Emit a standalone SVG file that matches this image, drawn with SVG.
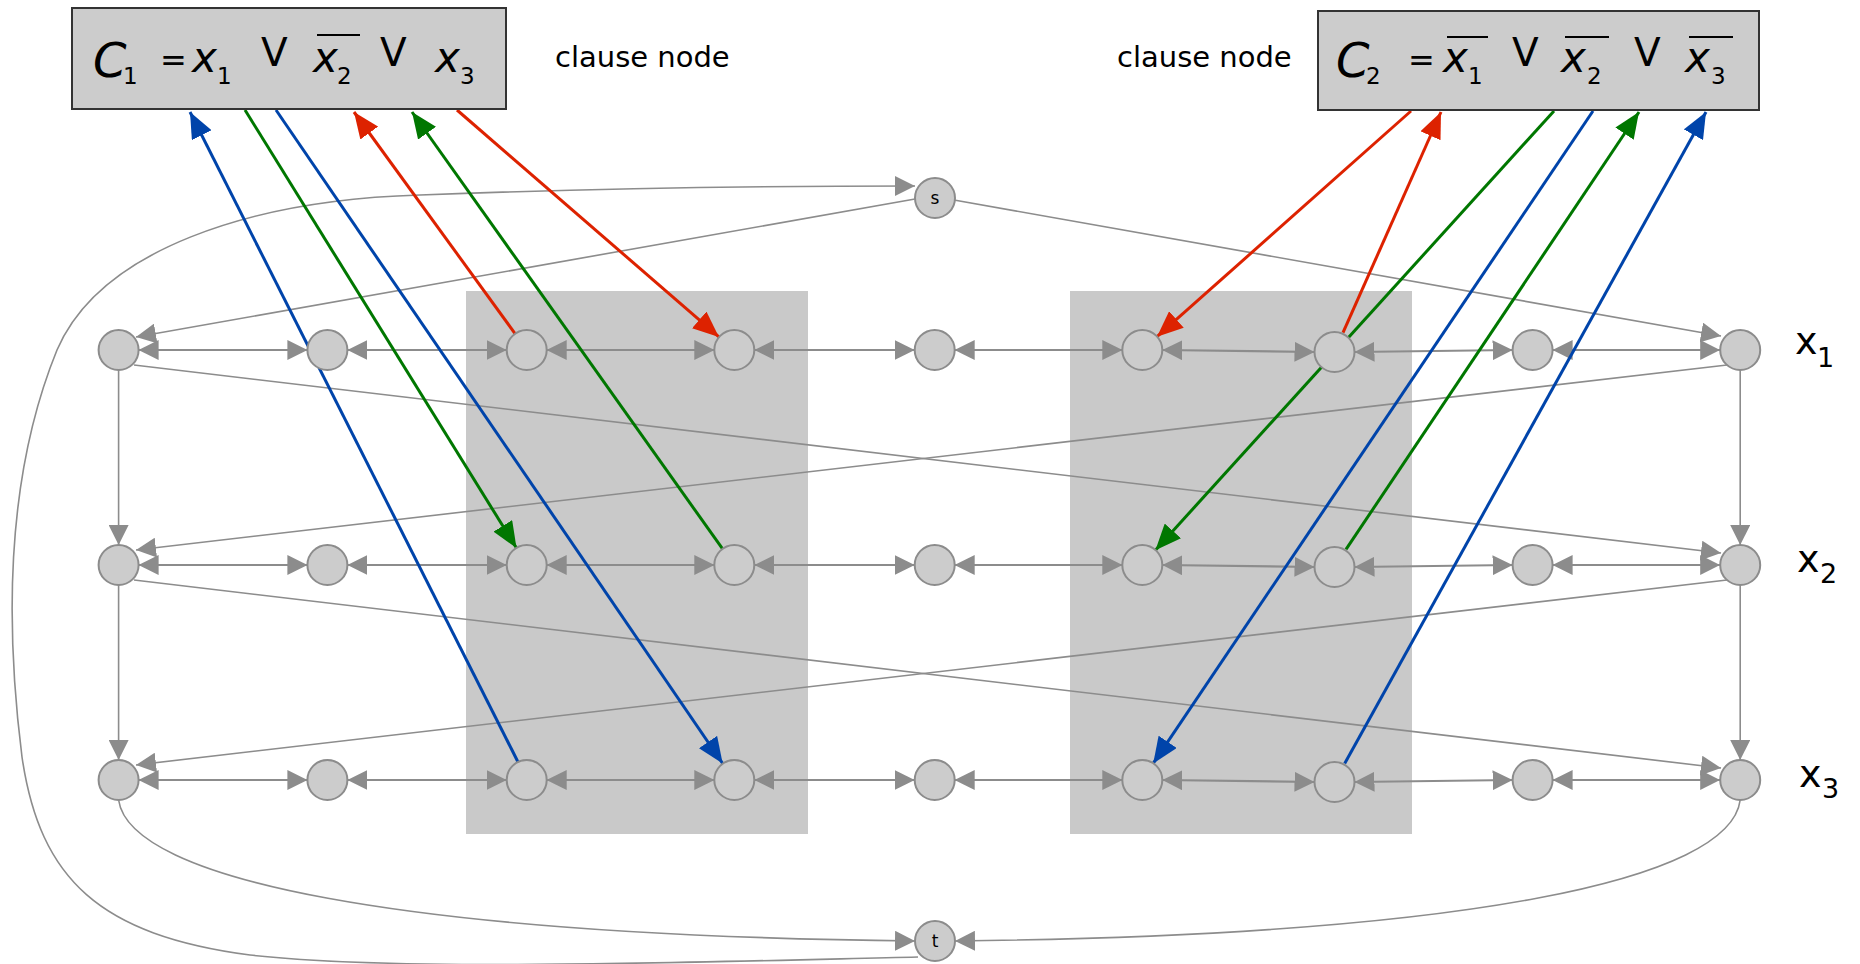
<svg xmlns="http://www.w3.org/2000/svg" width="1860" height="964" viewBox="0 0 1860 964">
<style>
.bg{fill:#ffffff}
.shade{fill:#c9c9c9}
.box{fill:#cccccc;stroke:#333333;stroke-width:2}
.nd{fill:#cccccc;stroke:#8c8c8c;stroke-width:2}
.e{stroke:#8c8c8c;stroke-width:2.2;fill:none}
.d{stroke:#8c8c8c;stroke-width:1.6;fill:none}
.dbl{marker-start:url(#ga);marker-end:url(#ga)}
.one{marker-end:url(#ga)}
.red{stroke:#dd2200;stroke-width:3;fill:none;marker-end:url(#ra)}
.grn{stroke:#007700;stroke-width:3;fill:none;marker-end:url(#gr)}
.blu{stroke:#0044aa;stroke-width:3;fill:none;marker-end:url(#ba)}
.lbl{font-family:"DejaVu Sans",sans-serif;font-size:29px;fill:#000}
.vl{font-family:"DejaVu Sans",sans-serif;font-size:38px;fill:#000}
.vs{font-family:"DejaVu Sans",sans-serif;font-size:27px;fill:#000}
.fi{font-family:"DejaVu Sans",sans-serif;font-style:italic;fill:#000}
.fr{font-family:"DejaVu Sans",sans-serif;fill:#000}
.sub{font-family:"DejaVu Sans",sans-serif;font-size:23px;fill:#000}
.ol{stroke:#000;stroke-width:2}
.st{font-family:"DejaVu Sans",sans-serif;font-size:17px;fill:#000;text-anchor:middle}
</style>
<defs>
<marker id="ga" viewBox="0 0 20 20" markerWidth="20" markerHeight="20" markerUnits="userSpaceOnUse" refX="20" refY="10" orient="auto-start-reverse"><path d="M0,0 L20,10 L0,20 z" fill="#8c8c8c"/></marker>
<marker id="ra" viewBox="0 0 26 22" markerWidth="26" markerHeight="22" markerUnits="userSpaceOnUse" refX="26" refY="11" orient="auto"><path d="M0,0 L26,11 L0,22 z" fill="#dd2200"/></marker>
<marker id="gr" viewBox="0 0 26 22" markerWidth="26" markerHeight="22" markerUnits="userSpaceOnUse" refX="26" refY="11" orient="auto"><path d="M0,0 L26,11 L0,22 z" fill="#007700"/></marker>
<marker id="ba" viewBox="0 0 26 22" markerWidth="26" markerHeight="22" markerUnits="userSpaceOnUse" refX="26" refY="11" orient="auto"><path d="M0,0 L26,11 L0,22 z" fill="#0044aa"/></marker>
</defs>
<rect class="bg" x="0" y="0" width="1860" height="964"/>
<g id="shading">
<rect class="shade" x="466" y="291" width="342" height="543"/>
<rect class="shade" x="1070" y="291" width="342" height="543"/>
</g>
<g id="connectors">
<!-- row 1 -->
<line class="e dbl" x1="138.6" y1="350" x2="307.4" y2="350"/>
<line class="e dbl" x1="347.4" y1="350" x2="506.7" y2="350"/>
<line class="e dbl" x1="546.7" y1="350" x2="714.3" y2="350"/>
<line class="e dbl" x1="754.3" y1="350" x2="914.7" y2="350"/>
<line class="e dbl" x1="954.7" y1="350" x2="1122.3" y2="350"/>
<line class="e dbl" x1="1162.3" y1="350" x2="1314.5" y2="352"/>
<line class="e dbl" x1="1354.5" y1="352" x2="1512.6" y2="350"/>
<line class="e dbl" x1="1552.6" y1="350" x2="1720.2" y2="350"/>
<!-- row 2 -->
<line class="e dbl" x1="138.6" y1="565" x2="307.4" y2="565"/>
<line class="e dbl" x1="347.4" y1="565" x2="506.7" y2="565"/>
<line class="e dbl" x1="546.7" y1="565" x2="714.3" y2="565"/>
<line class="e dbl" x1="754.3" y1="565" x2="914.7" y2="565"/>
<line class="e dbl" x1="954.7" y1="565" x2="1122.3" y2="565"/>
<line class="e dbl" x1="1162.3" y1="565" x2="1314.5" y2="567"/>
<line class="e dbl" x1="1354.5" y1="567" x2="1512.6" y2="565"/>
<line class="e dbl" x1="1552.6" y1="565" x2="1720.2" y2="565"/>
<!-- row 3 -->
<line class="e dbl" x1="138.6" y1="780" x2="307.4" y2="780"/>
<line class="e dbl" x1="347.4" y1="780" x2="506.7" y2="780"/>
<line class="e dbl" x1="546.7" y1="780" x2="714.3" y2="780"/>
<line class="e dbl" x1="754.3" y1="780" x2="914.7" y2="780"/>
<line class="e dbl" x1="954.7" y1="780" x2="1122.3" y2="780"/>
<line class="e dbl" x1="1162.3" y1="780" x2="1314.5" y2="782"/>
<line class="e dbl" x1="1354.5" y1="782" x2="1512.6" y2="780"/>
<line class="e dbl" x1="1552.6" y1="780" x2="1720.2" y2="780"/>
<!-- verticals -->
<line class="d one" x1="118.6" y1="370" x2="118.6" y2="545"/>
<line class="d one" x1="118.6" y1="585" x2="118.6" y2="760"/>
<line class="d one" x1="1740.2" y1="370" x2="1740.2" y2="545"/>
<line class="d one" x1="1740.2" y1="585" x2="1740.2" y2="760"/>
<!-- diagonals -->
<line class="d one" x1="915" y1="199" x2="136" y2="337"/>
<line class="d one" x1="954" y1="200" x2="1721" y2="336"/>
<line class="d one" x1="134" y1="365" x2="1721" y2="553"/>
<line class="d one" x1="1727" y1="365" x2="136" y2="550"/>
<line class="d one" x1="134" y1="580" x2="1721" y2="768"/>
<line class="d one" x1="1727" y1="580" x2="136" y2="765"/>
<!-- curves to t and back to s -->
<path class="d one" d="M118.6,800 C130,880 400,935 915,941"/>
<path class="d one" d="M1740.2,800 C1730,880 1470,935 955,941"/>
<path class="d one" d="M918,957 C700,962 400,972 250,955 C100,935 40,880 22,757 C6,630 4,480 57,350 C100,250 250,200 420,195 C600,188 800,186 915,186"/>
<!-- clause C1 -->
<line class="blu" x1="518" y1="762" x2="190" y2="112"/>
<line class="grn" x1="245" y1="110" x2="516.5" y2="548"/>
<line class="blu" x1="276" y1="110" x2="722.7" y2="763.5"/>
<line class="red" x1="515.2" y1="333.8" x2="354" y2="112"/>
<line class="grn" x1="722.4" y1="548.7" x2="412" y2="112"/>
<line class="red" x1="457" y1="110" x2="718.9" y2="336.9"/>
<!-- clause C2 -->
<line class="red" x1="1411" y1="111" x2="1157" y2="336.7"/>
<line class="red" x1="1343" y1="332.7" x2="1441" y2="112"/>
<line class="grn" x1="1554" y1="111" x2="1155.4" y2="550.2"/>
<line class="grn" x1="1346" y1="549.4" x2="1639" y2="112"/>
<line class="blu" x1="1593" y1="111" x2="1153.2" y2="763.4"/>
<line class="blu" x1="1344.7" y1="763.5" x2="1706" y2="112"/>
</g>
<g id="clause1">
<rect class="box" x="72" y="8" width="434" height="101"/>
<text class="fi" x="93" y="77" font-size="48">C</text>
<text class="sub" x="123" y="84">1</text>
<text class="fr" x="160" y="71" font-size="32">=</text>
<text class="fi" x="192" y="72" font-size="42">x</text>
<text class="sub" x="217" y="84">1</text>
<text class="fr" x="261" y="66" font-size="39">V</text>
<line class="ol" x1="317" y1="35" x2="360" y2="35"/>
<text class="fi" x="313" y="72" font-size="42">x</text>
<text class="sub" x="337" y="84">2</text>
<text class="fr" x="380" y="66" font-size="39">V</text>
<text class="fi" x="435" y="72" font-size="42">x</text>
<text class="sub" x="460" y="84">3</text>
</g>
<g id="clause2">
<rect class="box" x="1318" y="11" width="441" height="99"/>
<text class="fi" x="1336" y="77" font-size="48">C</text>
<text class="sub" x="1366" y="84">2</text>
<text class="fr" x="1408" y="71" font-size="32">=</text>
<line class="ol" x1="1447" y1="37" x2="1488" y2="37"/>
<text class="fi" x="1443" y="72" font-size="42">x</text>
<text class="sub" x="1468" y="84">1</text>
<text class="fr" x="1512" y="66" font-size="39">V</text>
<line class="ol" x1="1565" y1="37" x2="1609" y2="37"/>
<text class="fi" x="1561" y="72" font-size="42">x</text>
<text class="sub" x="1587" y="84">2</text>
<text class="fr" x="1634" y="66" font-size="39">V</text>
<line class="ol" x1="1689" y1="37" x2="1733" y2="37"/>
<text class="fi" x="1685" y="72" font-size="42">x</text>
<text class="sub" x="1711" y="84">3</text>
</g>
<g id="labels">
<text class="lbl" x="555" y="67">clause node</text>
<text class="lbl" x="1117" y="67">clause node</text>
<text class="vl" x="1795" y="354">x</text><text class="vs" x="1817" y="367">1</text>
<text class="vl" x="1797" y="572">x</text><text class="vs" x="1820" y="583">2</text>
<text class="vl" x="1799" y="787">x</text><text class="vs" x="1822" y="798">3</text>
</g>
<g id="node-s"><circle class="nd" cx="935" cy="198" r="20"/><text class="st" x="935" y="204">s</text></g>
<g id="node-t"><circle class="nd" cx="935" cy="941" r="20"/><text class="st" x="935" y="947">t</text></g>
<g id="node-1-1"><circle class="nd" cx="118.6" cy="350" r="20"/></g>
<g id="node-1-2"><circle class="nd" cx="327.4" cy="350" r="20"/></g>
<g id="node-1-3"><circle class="nd" cx="526.7" cy="350" r="20"/></g>
<g id="node-1-4"><circle class="nd" cx="734.3" cy="350" r="20"/></g>
<g id="node-1-5"><circle class="nd" cx="934.7" cy="350" r="20"/></g>
<g id="node-1-6"><circle class="nd" cx="1142.3" cy="350" r="20"/></g>
<g id="node-1-7"><circle class="nd" cx="1334.5" cy="352" r="20"/></g>
<g id="node-1-8"><circle class="nd" cx="1532.6" cy="350" r="20"/></g>
<g id="node-1-9"><circle class="nd" cx="1740.2" cy="350" r="20"/></g>
<g id="node-2-1"><circle class="nd" cx="118.6" cy="565" r="20"/></g>
<g id="node-2-2"><circle class="nd" cx="327.4" cy="565" r="20"/></g>
<g id="node-2-3"><circle class="nd" cx="526.7" cy="565" r="20"/></g>
<g id="node-2-4"><circle class="nd" cx="734.3" cy="565" r="20"/></g>
<g id="node-2-5"><circle class="nd" cx="934.7" cy="565" r="20"/></g>
<g id="node-2-6"><circle class="nd" cx="1142.3" cy="565" r="20"/></g>
<g id="node-2-7"><circle class="nd" cx="1334.5" cy="567" r="20"/></g>
<g id="node-2-8"><circle class="nd" cx="1532.6" cy="565" r="20"/></g>
<g id="node-2-9"><circle class="nd" cx="1740.2" cy="565" r="20"/></g>
<g id="node-3-1"><circle class="nd" cx="118.6" cy="780" r="20"/></g>
<g id="node-3-2"><circle class="nd" cx="327.4" cy="780" r="20"/></g>
<g id="node-3-3"><circle class="nd" cx="526.7" cy="780" r="20"/></g>
<g id="node-3-4"><circle class="nd" cx="734.3" cy="780" r="20"/></g>
<g id="node-3-5"><circle class="nd" cx="934.7" cy="780" r="20"/></g>
<g id="node-3-6"><circle class="nd" cx="1142.3" cy="780" r="20"/></g>
<g id="node-3-7"><circle class="nd" cx="1334.5" cy="782" r="20"/></g>
<g id="node-3-8"><circle class="nd" cx="1532.6" cy="780" r="20"/></g>
<g id="node-3-9"><circle class="nd" cx="1740.2" cy="780" r="20"/></g>
</svg>
